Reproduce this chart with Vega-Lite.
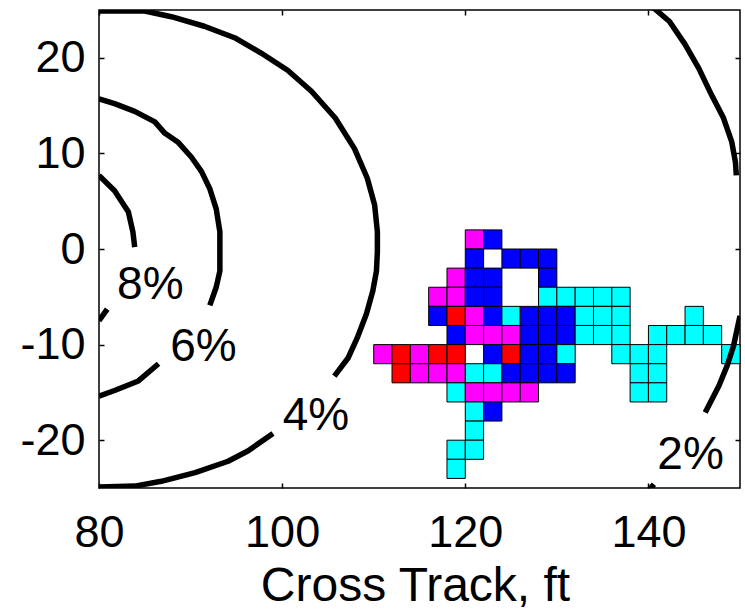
{
  "$schema": "https://vega.github.io/schema/vega-lite/v6.json",
  "width": 641,
  "height": 478,
  "autosize": "none",
  "padding": {"left": 99, "top": 10, "right": 5, "bottom": 127},
  "background": "white",
  "config": {
    "font": "Liberation Sans",
    "view": {"stroke": "black", "strokeWidth": 1.5},
    "axis": {"grid": false, "domain": false, "tickSize": -5, "tickWidth": 1.5, "tickColor": "black", "labelColor": "black", "labelFontSize": 45, "labelFont": "Liberation Sans", "labelOverlap": false, "labelFlush": false, "labelBound": false, "titleColor": "black", "titleFont": "Liberation Sans", "titleFontSize": 48, "titleFontWeight": "normal"}
  },
  "datasets": {
    "cells": [
      {"x":120,"x2":122,"y":0,"y2":2,"c":"magenta"},
      {"x":122,"x2":124,"y":0,"y2":2,"c":"blue"},
      {"x":120,"x2":122,"y":-2,"y2":0,"c":"blue"},
      {"x":124,"x2":126,"y":-2,"y2":0,"c":"blue"},
      {"x":126,"x2":128,"y":-2,"y2":0,"c":"blue"},
      {"x":128,"x2":130,"y":-2,"y2":0,"c":"blue"},
      {"x":118,"x2":120,"y":-4,"y2":-2,"c":"magenta"},
      {"x":120,"x2":122,"y":-4,"y2":-2,"c":"blue"},
      {"x":122,"x2":124,"y":-4,"y2":-2,"c":"blue"},
      {"x":128,"x2":130,"y":-4,"y2":-2,"c":"blue"},
      {"x":116,"x2":118,"y":-6,"y2":-4,"c":"magenta"},
      {"x":118,"x2":120,"y":-6,"y2":-4,"c":"magenta"},
      {"x":120,"x2":122,"y":-6,"y2":-4,"c":"blue"},
      {"x":122,"x2":124,"y":-6,"y2":-4,"c":"blue"},
      {"x":128,"x2":130,"y":-6,"y2":-4,"c":"cyan"},
      {"x":130,"x2":132,"y":-6,"y2":-4,"c":"cyan"},
      {"x":132,"x2":134,"y":-6,"y2":-4,"c":"cyan"},
      {"x":134,"x2":136,"y":-6,"y2":-4,"c":"cyan"},
      {"x":136,"x2":138,"y":-6,"y2":-4,"c":"cyan"},
      {"x":116,"x2":118,"y":-8,"y2":-6,"c":"blue"},
      {"x":118,"x2":120,"y":-8,"y2":-6,"c":"red"},
      {"x":120,"x2":122,"y":-8,"y2":-6,"c":"magenta"},
      {"x":122,"x2":124,"y":-8,"y2":-6,"c":"blue"},
      {"x":124,"x2":126,"y":-8,"y2":-6,"c":"cyan"},
      {"x":126,"x2":128,"y":-8,"y2":-6,"c":"blue"},
      {"x":128,"x2":130,"y":-8,"y2":-6,"c":"blue"},
      {"x":130,"x2":132,"y":-8,"y2":-6,"c":"blue"},
      {"x":132,"x2":134,"y":-8,"y2":-6,"c":"cyan"},
      {"x":134,"x2":136,"y":-8,"y2":-6,"c":"cyan"},
      {"x":136,"x2":138,"y":-8,"y2":-6,"c":"cyan"},
      {"x":144,"x2":146,"y":-8,"y2":-6,"c":"cyan"},
      {"x":118,"x2":120,"y":-10,"y2":-8,"c":"blue"},
      {"x":120,"x2":122,"y":-10,"y2":-8,"c":"magenta"},
      {"x":122,"x2":124,"y":-10,"y2":-8,"c":"magenta"},
      {"x":124,"x2":126,"y":-10,"y2":-8,"c":"magenta"},
      {"x":126,"x2":128,"y":-10,"y2":-8,"c":"blue"},
      {"x":128,"x2":130,"y":-10,"y2":-8,"c":"blue"},
      {"x":130,"x2":132,"y":-10,"y2":-8,"c":"blue"},
      {"x":132,"x2":134,"y":-10,"y2":-8,"c":"cyan"},
      {"x":134,"x2":136,"y":-10,"y2":-8,"c":"cyan"},
      {"x":136,"x2":138,"y":-10,"y2":-8,"c":"cyan"},
      {"x":140,"x2":142,"y":-10,"y2":-8,"c":"cyan"},
      {"x":142,"x2":144,"y":-10,"y2":-8,"c":"cyan"},
      {"x":144,"x2":146,"y":-10,"y2":-8,"c":"cyan"},
      {"x":146,"x2":148,"y":-10,"y2":-8,"c":"cyan"},
      {"x":110,"x2":112,"y":-12,"y2":-10,"c":"magenta"},
      {"x":112,"x2":114,"y":-12,"y2":-10,"c":"red"},
      {"x":114,"x2":116,"y":-12,"y2":-10,"c":"magenta"},
      {"x":116,"x2":118,"y":-12,"y2":-10,"c":"red"},
      {"x":118,"x2":120,"y":-12,"y2":-10,"c":"red"},
      {"x":122,"x2":124,"y":-12,"y2":-10,"c":"blue"},
      {"x":124,"x2":126,"y":-12,"y2":-10,"c":"red"},
      {"x":126,"x2":128,"y":-12,"y2":-10,"c":"blue"},
      {"x":128,"x2":130,"y":-12,"y2":-10,"c":"blue"},
      {"x":130,"x2":132,"y":-12,"y2":-10,"c":"cyan"},
      {"x":136,"x2":138,"y":-12,"y2":-10,"c":"cyan"},
      {"x":138,"x2":140,"y":-12,"y2":-10,"c":"cyan"},
      {"x":140,"x2":142,"y":-12,"y2":-10,"c":"cyan"},
      {"x":148,"x2":150,"y":-12,"y2":-10,"c":"cyan"},
      {"x":112,"x2":114,"y":-14,"y2":-12,"c":"red"},
      {"x":114,"x2":116,"y":-14,"y2":-12,"c":"magenta"},
      {"x":116,"x2":118,"y":-14,"y2":-12,"c":"magenta"},
      {"x":118,"x2":120,"y":-14,"y2":-12,"c":"magenta"},
      {"x":120,"x2":122,"y":-14,"y2":-12,"c":"cyan"},
      {"x":122,"x2":124,"y":-14,"y2":-12,"c":"cyan"},
      {"x":124,"x2":126,"y":-14,"y2":-12,"c":"blue"},
      {"x":126,"x2":128,"y":-14,"y2":-12,"c":"blue"},
      {"x":128,"x2":130,"y":-14,"y2":-12,"c":"blue"},
      {"x":130,"x2":132,"y":-14,"y2":-12,"c":"blue"},
      {"x":138,"x2":140,"y":-14,"y2":-12,"c":"cyan"},
      {"x":140,"x2":142,"y":-14,"y2":-12,"c":"cyan"},
      {"x":118,"x2":120,"y":-16,"y2":-14,"c":"cyan"},
      {"x":120,"x2":122,"y":-16,"y2":-14,"c":"magenta"},
      {"x":122,"x2":124,"y":-16,"y2":-14,"c":"magenta"},
      {"x":124,"x2":126,"y":-16,"y2":-14,"c":"magenta"},
      {"x":126,"x2":128,"y":-16,"y2":-14,"c":"magenta"},
      {"x":138,"x2":140,"y":-16,"y2":-14,"c":"cyan"},
      {"x":140,"x2":142,"y":-16,"y2":-14,"c":"cyan"},
      {"x":120,"x2":122,"y":-18,"y2":-16,"c":"cyan"},
      {"x":122,"x2":124,"y":-18,"y2":-16,"c":"blue"},
      {"x":120,"x2":122,"y":-20,"y2":-18,"c":"cyan"},
      {"x":118,"x2":120,"y":-22,"y2":-20,"c":"cyan"},
      {"x":120,"x2":122,"y":-22,"y2":-20,"c":"cyan"},
      {"x":118,"x2":120,"y":-24,"y2":-22,"c":"cyan"}
    ],
    "contours": [
      {"seg":"4a","o":1,"x":80,"y":24.9},
      {"seg":"4a","o":2,"x":85,"y":24.9},
      {"seg":"4a","o":3,"x":87.9,"y":24.3},
      {"seg":"4a","o":4,"x":91.5,"y":23.3},
      {"seg":"4a","o":5,"x":94.8,"y":22.1},
      {"seg":"4a","o":6,"x":97.7,"y":20.5},
      {"seg":"4a","o":7,"x":100.6,"y":18.7},
      {"seg":"4a","o":8,"x":103.2,"y":16.5},
      {"seg":"4a","o":9,"x":105.8,"y":13.7},
      {"seg":"4a","o":10,"x":107.9,"y":10.5},
      {"seg":"4a","o":11,"x":109.3,"y":7.4},
      {"seg":"4a","o":12,"x":110.1,"y":4.6},
      {"seg":"4a","o":13,"x":110.4,"y":1.8},
      {"seg":"4a","o":14,"x":110.4,"y":-0.3},
      {"seg":"4a","o":15,"x":110.3,"y":-2.3},
      {"seg":"4a","o":16,"x":109.9,"y":-4.4},
      {"seg":"4a","o":17,"x":109.2,"y":-6.8},
      {"seg":"4a","o":18,"x":108.2,"y":-9.3},
      {"seg":"4a","o":19,"x":107.2,"y":-11.4},
      {"seg":"4a","o":20,"x":105.7,"y":-13.3},
      {"seg":"4b","o":1,"x":99.0,"y":-19.3},
      {"seg":"4b","o":2,"x":96.3,"y":-21.1},
      {"seg":"4b","o":3,"x":94.1,"y":-22.2},
      {"seg":"4b","o":4,"x":90.5,"y":-23.4},
      {"seg":"4b","o":5,"x":86.8,"y":-24.3},
      {"seg":"4b","o":6,"x":83.9,"y":-24.8},
      {"seg":"4b","o":7,"x":80,"y":-24.9},
      {"seg":"6a","o":1,"x":80,"y":15.7},
      {"seg":"6a","o":2,"x":81.7,"y":15.2},
      {"seg":"6a","o":3,"x":83.9,"y":14.4},
      {"seg":"6a","o":4,"x":86.1,"y":13.3},
      {"seg":"6a","o":5,"x":87.2,"y":12.1},
      {"seg":"6a","o":6,"x":88.6,"y":11.2},
      {"seg":"6a","o":7,"x":90.1,"y":9.6},
      {"seg":"6a","o":8,"x":91.2,"y":8.1},
      {"seg":"6a","o":9,"x":92.1,"y":6.3},
      {"seg":"6a","o":10,"x":92.8,"y":4.2},
      {"seg":"6a","o":11,"x":93.2,"y":1.8},
      {"seg":"6a","o":12,"x":93.2,"y":-0.3},
      {"seg":"6a","o":13,"x":93.2,"y":-2.3},
      {"seg":"6a","o":14,"x":92.8,"y":-4.0},
      {"seg":"6a","o":15,"x":92.1,"y":-5.9},
      {"seg":"6b","o":1,"x":86.5,"y":-12.0},
      {"seg":"6b","o":2,"x":84.3,"y":-13.8},
      {"seg":"6b","o":3,"x":81.7,"y":-14.8},
      {"seg":"6b","o":4,"x":80,"y":-15.4},
      {"seg":"8a","o":1,"x":80,"y":7.7},
      {"seg":"8a","o":2,"x":81.7,"y":6.1},
      {"seg":"8a","o":3,"x":83.2,"y":3.9},
      {"seg":"8a","o":4,"x":83.7,"y":1.8},
      {"seg":"8a","o":5,"x":83.9,"y":0.2},
      {"seg":"8b","o":1,"x":80,"y":-7.5},
      {"seg":"8b","o":2,"x":80.9,"y":-6.3},
      {"seg":"2a","o":1,"x":140.6,"y":25.2},
      {"seg":"2a","o":2,"x":142.3,"y":23.8},
      {"seg":"2a","o":3,"x":144.0,"y":21.4},
      {"seg":"2a","o":4,"x":145.5,"y":18.9},
      {"seg":"2a","o":5,"x":146.9,"y":16.1},
      {"seg":"2a","o":6,"x":148.2,"y":13.7},
      {"seg":"2a","o":7,"x":149.1,"y":11.2},
      {"seg":"2a","o":8,"x":149.5,"y":9.1},
      {"seg":"2a","o":9,"x":149.6,"y":7.7},
      {"seg":"2b","o":1,"x":150,"y":-7.0},
      {"seg":"2b","o":2,"x":149.3,"y":-10.1},
      {"seg":"2b","o":3,"x":148.6,"y":-12.2},
      {"seg":"2b","o":4,"x":147.7,"y":-14.3},
      {"seg":"2b","o":5,"x":146.2,"y":-17.1},
      {"seg":"2c","o":1,"x":140.1,"y":-25.2},
      {"seg":"2c","o":2,"x":140.6,"y":-24.6}
    ],
    "labels": [
      {"x":85.6,"y":-3.8,"t":"8%"},
      {"x":91.4,"y":-10.2,"t":"6%"},
      {"x":103.7,"y":-17.5,"t":"4%"},
      {"x":144.6,"y":-21.5,"t":"2%"}
    ]
  },
  "layer": [
    {
      "data": {"name": "cells"},
      "mark": {"type": "rect", "stroke": "black", "strokeWidth": 1},
      "encoding": {
        "x": {"field": "x", "type": "quantitative", "scale": {"domain": [80, 150], "nice": false, "zero": false},
              "axis": {"orient": "bottom", "values": [80, 100, 120, 140], "title": "Cross Track, ft", "labelPadding": 27, "titleBaseline": "alphabetic", "titleAlign": "center", "titleX": 316, "titleY": 112}},
        "x2": {"field": "x2"},
        "y": {"field": "y", "type": "quantitative", "scale": {"domain": [-25, 25], "nice": false, "zero": false},
              "axis": {"orient": "left", "values": [-20, -10, 0, 10, 20], "title": null, "labelPadding": 19, "labelExpr": "replace(datum.label, '\u2212', '-')"}},
        "y2": {"field": "y2"},
        "color": {"field": "c", "type": "nominal", "legend": null,
                  "scale": {"domain": ["blue", "cyan", "magenta", "red"], "range": ["#0000ff", "#00ffff", "#ff00ff", "#ff0000"]}}
      }
    },
    {
      "data": {"name": "contours"},
      "mark": {"type": "line", "color": "black", "strokeWidth": 5.5, "clip": true, "strokeJoin": "round"},
      "encoding": {
        "x": {"field": "x", "type": "quantitative",
              "axis": {"orient": "top", "values": [80, 100, 120, 140], "labels": false, "title": null}},
        "y": {"field": "y", "type": "quantitative",
              "axis": {"orient": "right", "values": [-20, -10, 0, 10, 20], "labels": false, "title": null}},
        "detail": {"field": "seg", "type": "nominal"},
        "order": {"field": "o", "type": "quantitative"}
      }
    },
    {
      "data": {"name": "labels"},
      "mark": {"type": "text", "fontSize": 46, "font": "Liberation Sans", "color": "black", "align": "center", "baseline": "middle"},
      "encoding": {
        "x": {"field": "x", "type": "quantitative", "axis": null},
        "y": {"field": "y", "type": "quantitative", "axis": null},
        "text": {"field": "t"}
      }
    }
  ],
  "resolve": {"axis": {"x": "independent", "y": "independent"}}
}
